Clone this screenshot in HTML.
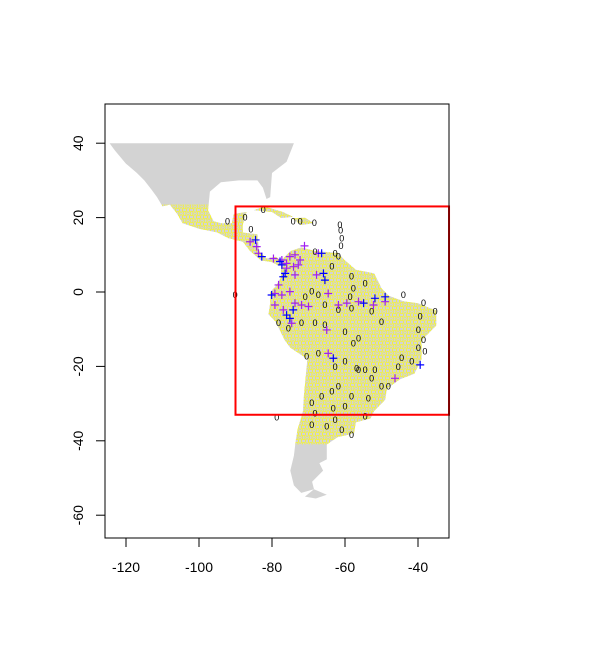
<!DOCTYPE html>
<html><head><meta charset="utf-8"><style>
body{margin:0;background:#fff}
svg{display:block;font-family:"Liberation Sans",sans-serif}
</style></head><body>
<svg id="chart" width="600" height="669" viewBox="0 0 600 669" xmlns="http://www.w3.org/2000/svg">
<defs>
<pattern id="ypat" width="7" height="7" patternUnits="userSpaceOnUse">
<text x="0.5" y="6" font-size="7.5" fill="#ffff00">0</text>
</pattern>
<pattern id="ypat2" x="3.5" y="3.5" width="7" height="7" patternUnits="userSpaceOnUse">
<text x="0.5" y="6" font-size="7.5" fill="#ffff00">0</text>
</pattern>
<clipPath id="plotclip"><rect x="105" y="104" width="344" height="434"/></clipPath>
<clipPath id="yclip"><rect id="yrect" x="0" y="0" width="0" height="0"/></clipPath>
</defs>
<g id="land" clip-path="url(#plotclip)"></g>
<g id="yellow" clip-path="url(#plotclip)"></g>
<g id="marks" clip-path="url(#plotclip)"></g>
<rect id="box" fill="none" stroke="#ff0000" stroke-width="2"/>
<rect x="105" y="104" width="344" height="434" fill="none" stroke="#000" stroke-width="1"/>
<g id="axes"></g>
</svg>
<script>
const xTicks=[-120,-100,-80,-60,-40];
const yTicks=[40,20,0,-20,-40,-60];
const extentBox=[-90,-31.5,23,-33];
const northAmerica=[[-124.5,40],[-74,40],[-76,35],[-80,32],[-80.5,25.5],[-81.5,25],[-82.5,28],[-84,30],[-89,30],[-94,29.5],[-97,27],[-97.5,22],[-96,19],[-94,18.5],[-91,18.5],[-90.5,21],[-87,21.5],[-88,18],[-88,16],[-84,15.5],[-83.5,11],[-81.5,9],[-79,9.5],[-77.5,8.5],[-78,7],[-80,8],[-83,8.5],[-86,11],[-88,13.5],[-92,14.5],[-95,16],[-100,17],[-104.5,18.5],[-106,21],[-108,23.5],[-110,23],[-111.5,25.5],[-113,27.5],[-115,30],[-117,32],[-120,34.5],[-123,38]];
const southAmerica=[[-77.5,8.5],[-75,11],[-72,12],[-68,11],[-62,10.5],[-60,8.5],[-57,6],[-52,5],[-50,1],[-48,-1],[-44,-2.5],[-40,-3],[-35,-5],[-35,-9],[-39,-13],[-39,-18],[-41,-22],[-45,-23.5],[-48.5,-26],[-49,-29],[-52,-32],[-53,-34],[-57,-35],[-57.5,-38],[-62,-39],[-65,-41],[-65,-45],[-67,-46],[-66,-48],[-69,-51],[-68.5,-53],[-72,-54],[-74,-52],[-75,-48],[-74,-44],[-73.5,-40],[-73,-37],[-71.5,-32],[-71.3,-28],[-70.3,-18],[-75,-15],[-76.5,-13],[-79,-8],[-81,-6],[-80.5,-3],[-80.5,0],[-79,1.5],[-77.5,4],[-77.5,7]];
const fuego=[[-68.5,-53],[-65,-54.5],[-68,-55.5],[-71,-55]];
const cuba=[[-85,22],[-82,23],[-77,21.5],[-74.2,20.2],[-77.5,19.9],[-80,21.5]];
const hispaniola=[[-74.5,19.8],[-71,20],[-68.5,18.5],[-72,18]];
const blackLon=[-61.4,-61.2,-60.9,-61.1,-68.4,-72.3,-74.2,-82.4,-87.4,-85.8,-92.2,-90.1,-78.7,-68.2,-63.6,-62.7,-61.8,-58.2,-57.7,-54.5,-58.6,-70.9,-69.1,-67.3,-65.5,-61.8,-58.2,-52.7,-50.0,-44.0,-38.5,-35.3,-39.4,-39.9,-38.5,-39.9,-38.1,-44.5,-41.7,-45.4,-48.1,-50.0,-52.7,-54.5,-56.3,-57.7,-56.3,-60.0,-65.5,-68.2,-71.9,-75.5,-78.2,-70.5,-67.3,-62.7,-60.0,-56.8,-51.8,-61.8,-63.6,-66.4,-69.1,-58.2,-53.6,-63.2,-60.0,-54.5,-68.2,-62.7,-65.0,-58.2,-60.9,-69.1];
const blackLat=[18.0,16.5,14.4,12.4,18.5,18.9,18.9,22.0,20.0,16.8,18.9,-0.8,-33.8,10.8,6.8,10.4,9.5,4.1,1.0,2.3,-1.3,-1.3,0.1,-0.8,-3.5,-4.8,-4.4,-5.3,-8.0,-0.8,-3.0,-5.3,-6.6,-10.2,-12.9,-15.1,-16.0,-17.8,-18.7,-20.1,-25.4,-25.4,-23.2,-21.0,-21.0,-13.8,-12.5,-10.7,-8.9,-8.4,-8.4,-9.8,-8.4,-17.4,-16.5,-20.1,-18.7,-20.5,-21.0,-25.4,-26.8,-28.1,-29.9,-28.1,-28.6,-31.3,-30.8,-33.5,-32.6,-34.4,-36.2,-38.4,-37.1,-35.8];
const purpleLon=[-71.1,-86.0,-84.2,-83.7,-79.6,-77.3,-76.0,-75.1,-73.7,-72.3,-72.8,-74.1,-76.0,-73.7,-78.2,-79.2,-77.3,-75.1,-79.2,-76.9,-73.7,-71.9,-70.0,-67.8,-64.6,-61.8,-59.5,-56.3,-52.2,-49.0,-65.0,-74.6,-64.6,-46.3,-67.3];
const purpleLat=[12.4,13.5,12.2,10.4,9.0,8.6,7.7,9.5,10.0,8.6,7.3,6.8,6.4,4.6,1.9,-0.4,-0.8,0.1,-3.5,-4.8,-3.0,-3.5,-3.9,4.6,-0.4,-3.5,-3.0,-2.6,-3.5,-2.6,-10.2,-8.4,-16.5,-23.2,10.4];
const blueLon=[-84.5,-82.8,-77.8,-77.3,-76.4,-76.9,-66.4,-65.9,-65.5,-80.1,-74.2,-76.0,-75.1,-54.9,-51.8,-49.0,-63.2,-39.4];
const blueLat=[14.0,9.5,8.2,7.3,5.0,4.1,10.4,5.0,3.2,-0.8,-4.8,-6.2,-7.1,-3.0,-1.7,-1.3,-17.8,-19.6];
const yellowExtent=[-118,-30,23.5,-41];

const NS='http://www.w3.org/2000/svg';
const sx=lon=>126+(lon+120)*3.65;
const sy=lat=>292-lat*3.72;
function mk(tag,attrs,parent){const e=document.createElementNS(NS,tag);for(const k in attrs)e.setAttribute(k,attrs[k]);parent.appendChild(e);return e;}
const pts=p=>p.map(d=>sx(d[0]).toFixed(1)+','+sy(d[1]).toFixed(1)).join(' ');
const land=document.getElementById('land');
const shapes=[northAmerica,southAmerica,fuego,cuba,hispaniola];
shapes.forEach(s=>{const e=mk('polygon',{points:pts(s),fill:'#d3d3d3'},land);

});
const yr=document.getElementById('yrect');
yr.setAttribute('x',sx(yellowExtent[0]));yr.setAttribute('width',sx(yellowExtent[1])-sx(yellowExtent[0]));
yr.setAttribute('y',sy(yellowExtent[2]));yr.setAttribute('height',sy(yellowExtent[3])-sy(yellowExtent[2]));
const yel=document.getElementById('yellow');
const yg=mk('g',{'clip-path':'url(#yclip)'},yel);
[northAmerica,southAmerica,cuba,hispaniola].forEach(s=>{
 mk('polygon',{points:pts(s),fill:'url(#ypat)'},yg);
 mk('polygon',{points:pts(s),fill:'url(#ypat2)'},yg);});
const box=document.getElementById('box');
box.setAttribute('x',sx(extentBox[0]));box.setAttribute('width',sx(extentBox[1])-sx(extentBox[0]));
box.setAttribute('y',sy(extentBox[2]));box.setAttribute('height',sy(extentBox[3])-sy(extentBox[2]));
const marks=document.getElementById('marks');
blackLon.forEach((lon,i)=>{const t=mk('text',{x:sx(lon),y:sy(blackLat[i])+3,'font-size':'9','text-anchor':'middle',fill:'#000'},marks);
t.textContent='0';

});
function plus(lon,lat,col){const x=sx(lon),y=sy(lat);
 const p=mk('path',{d:`M${x-4},${y}H${x+4}M${x},${y-4}V${y+4}`,stroke:col,'stroke-width':'1.2',fill:'none'},marks);return p;}
purpleLon.forEach((lon,i)=>{const p=plus(lon,purpleLat[i],'#a020f0');

});
blueLon.forEach((lon,i)=>{const p=plus(lon,blueLat[i],'#0000ff');

});
const ax=document.getElementById('axes');
mk('line',{x1:sx(xTicks[0]),x2:sx(xTicks[xTicks.length-1]),y1:538,y2:538,stroke:'#000'},ax);
xTicks.forEach(v=>{const x=sx(v);mk('line',{x1:x,x2:x,y1:538,y2:547,stroke:'#000'},ax);
 const t=mk('text',{x:x,y:572,'font-size':'14','text-anchor':'middle'},ax);t.textContent=v;
 
 });
mk('line',{x1:105,x2:105,y1:sy(yTicks[0]),y2:sy(yTicks[yTicks.length-1]),stroke:'#000'},ax);
yTicks.forEach(v=>{const y=sy(v);mk('line',{x1:96,x2:105,y1:y,y2:y,stroke:'#000'},ax);
 const t=mk('text',{x:83,y:y,'font-size':'14','text-anchor':'middle',transform:`rotate(-90 83 ${y})`},ax);t.textContent=v;
 
 });
</script>
</body></html>
